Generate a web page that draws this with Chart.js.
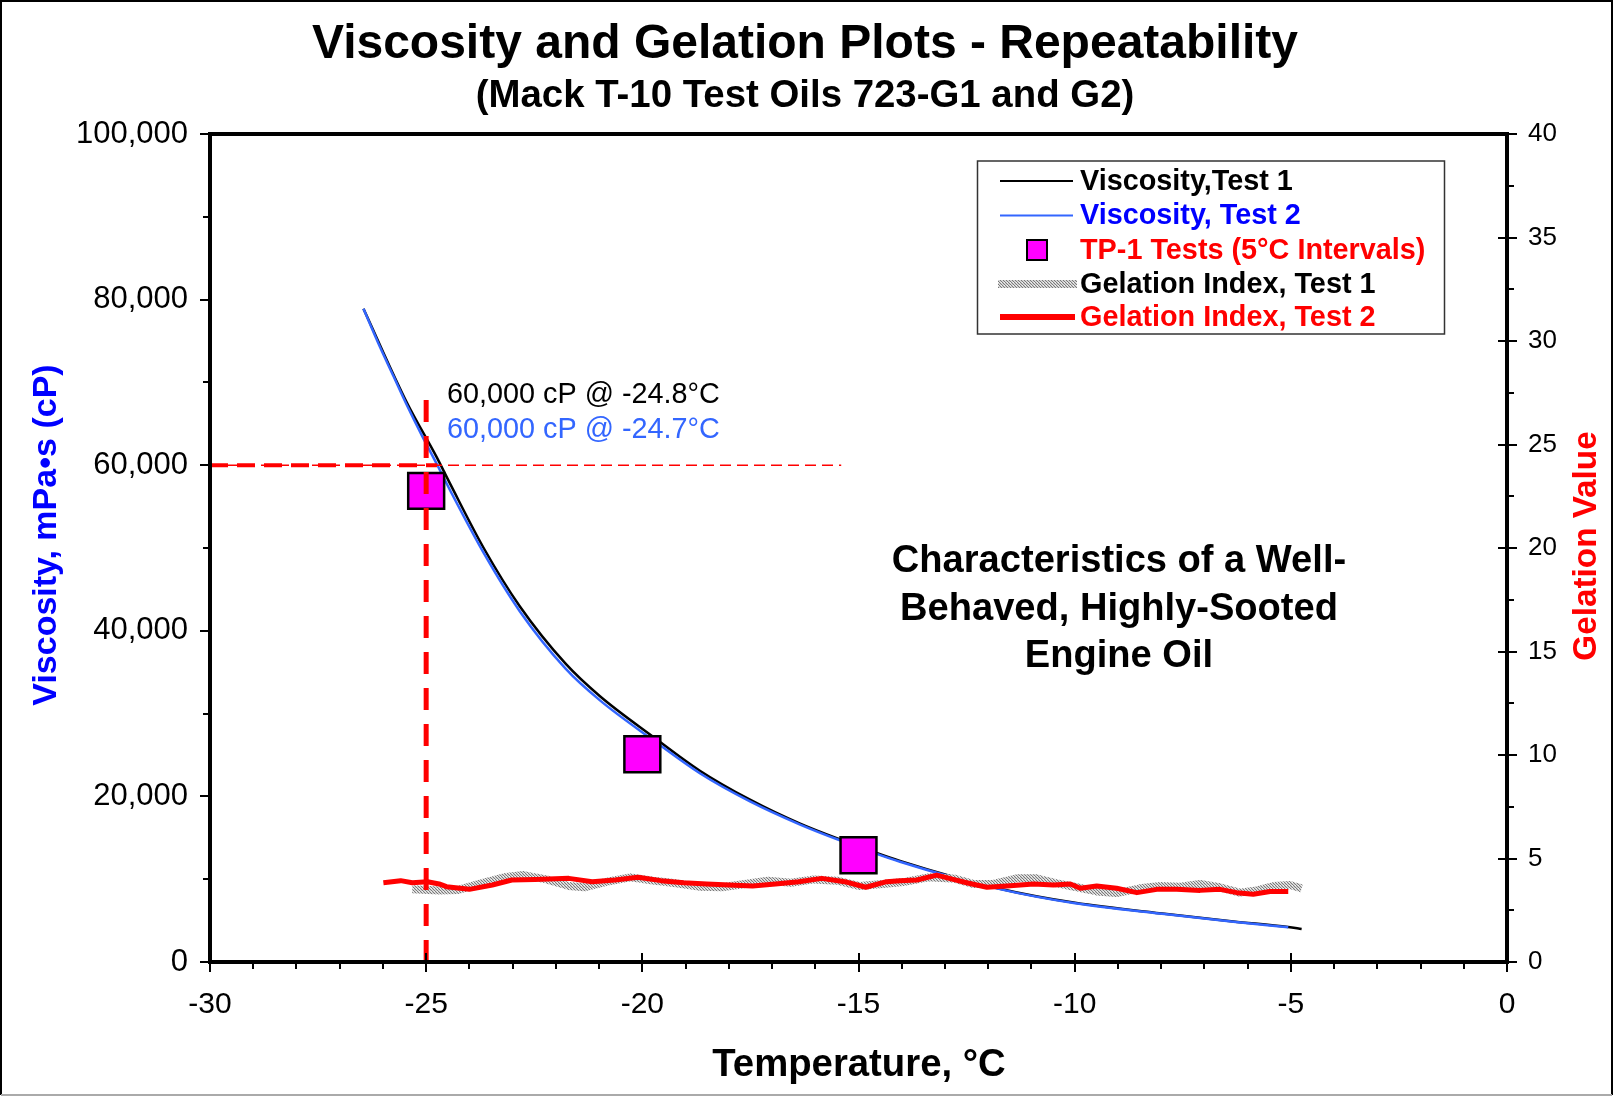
<!DOCTYPE html>
<html><head><meta charset="utf-8">
<script src="https://cdn.jsdelivr.net/npm/chart.js@4.4.1/dist/chart.umd.min.js"></script>
<style>html,body{margin:0;padding:0;background:#fff;}canvas{display:block;}</style>
</head><body>
<canvas id="c" width="1613" height="1096"></canvas>
<script>
// ---------- DATA ----------
const xTickLabels = ['-30','-25','-20','-15','-10','-5','0'];
const xTickValues = [-30,-25,-20,-15,-10,-5,0];
const yTickValues = [0,20000,40000,60000,80000,100000];
const yTickLabels = ['0','20,000','40,000','60,000','80,000','100,000'];
const y2TickValues = [0,5,10,15,20,25,30,35,40];
const y2TickLabels = ['0','5','10','15','20','25','30','35','40'];

const viscTemp1 = [-26.45,-25.45,-24.76,-24.45,-23.67,-22.84,-21.77,-20.98,-19.75,-18.67,-17.51,-16.35,-15.43,-14.04,-11.73,-9.99,-7.87,-6.33,-5.06,-4.75];
const viscTest1 = [78900,67600,61000,57800,50000,43000,36000,32100,27200,23100,19600,16700,14800,12200,8850,7150,5800,4900,4220,3990];

const viscTemp2 = [-26.45,-26.07,-25.76,-25.45,-25.1,-24.76,-24.45,-23.67,-22.84,-21.77,-20.98,-19.75,-18.67,-17.51,-16.35,-15.43,-14.04,-11.73,-9.99,-7.87,-6.33,-5.06];
const viscTest2 = [78900,74300,70800,67300,63600,60200,57000,49400,42400,35400,31600,26800,22800,19400,16600,14700,12100,8800,7090,5760,4870,4190];

const tp1Temp = [-25,-20,-15];
const tp1Visc = [56900,25100,12900];

const gel1Temp = [-25.32,-24.70,-24.26,-23.73,-23.2,-22.75,-22.22,-21.7,-21.34,-20.81,-20.28,-19.75,-19.22,-18.69,-18.16,-17.63,-17.1,-16.56,-16.03,-15.5,-14.97,-14.44,-13.91,-13.38,-12.76,-12.35,-11.88,-11.34,-10.88,-10.41,-9.95,-9.49,-9.03,-8.49,-8.02,-7.56,-7.1,-6.64,-6.18,-5.79,-5.4,-5.02,-4.75];
const gel1Val = [3.51,3.46,3.48,3.8,4.09,4.2,3.99,3.67,3.61,3.88,4.09,3.93,3.8,3.64,3.61,3.77,3.93,3.83,3.99,3.93,3.67,3.77,3.88,4.09,4.02,3.77,3.77,4.04,4.04,3.8,3.61,3.41,3.33,3.56,3.67,3.64,3.77,3.61,3.35,3.46,3.67,3.72,3.56];

const gel2Temp = [-25.99,-25.59,-25.32,-24.97,-24.70,-24.53,-24.0,-23.47,-23.02,-22.49,-21.7,-21.16,-20.63,-20.1,-19.57,-19.04,-18.51,-17.98,-17.45,-16.92,-16.38,-15.85,-15.32,-14.83,-14.35,-14.04,-13.65,-13.19,-12.81,-12.5,-12.03,-11.57,-10.95,-10.49,-10.1,-9.87,-9.49,-9.03,-8.56,-8.1,-7.64,-7.1,-6.64,-6.25,-5.87,-5.48,-5.06];
const gel2Val = [3.83,3.93,3.83,3.88,3.77,3.64,3.51,3.72,3.96,3.99,4.04,3.88,3.96,4.09,3.93,3.83,3.77,3.72,3.67,3.77,3.88,4.04,3.88,3.61,3.88,3.93,3.96,4.2,3.99,3.83,3.61,3.67,3.77,3.72,3.77,3.56,3.67,3.56,3.35,3.51,3.51,3.46,3.51,3.35,3.27,3.41,3.41];

const refVertTemp = [-25,-25];
const refVertVisc = [0,69000];
const refHorizThickTemp = [-30,-24.75];
const refHorizThinTemp = [-30,-15.4];
const refHorizVisc = [60000,60000];

const titleText = 'Viscosity and Gelation Plots - Repeatability';
const subtitleText = '(Mack T-10 Test Oils 723-G1 and G2)';
const xTitle = 'Temperature, °C';
const yTitle = 'Viscosity, mPa•s (cP)';
const y2Title = 'Gelation Value';
const noteLines = ['Characteristics of a Well-','Behaved, Highly-Sooted','Engine Oil'];
const annot1 = '60,000 cP @ -24.8°C';
const annot2 = '60,000 cP @ -24.7°C';
const legendLabels = ['Viscosity,Test 1','Viscosity, Test 2','TP-1 Tests (5°C Intervals)','Gelation Index, Test 1','Gelation Index, Test 2'];

// ---------- HELPERS ----------
const FONT = '"Liberation Sans", Arial, Helvetica, sans-serif';
const pts = (xs, ys) => xs.map((x, i) => ({x: x, y: ys[i]}));
const canvas = document.getElementById('c');
const pc = document.createElement('canvas'); pc.width = 3; pc.height = 3;
const pctx = pc.getContext('2d');
pctx.fillStyle = '#d4d4d4'; pctx.fillRect(0,0,3,3);
pctx.fillStyle = '#7a7a7a'; pctx.fillRect(0,0,1,1); pctx.fillRect(1,1,1,1); pctx.fillRect(2,2,1,1);
pctx.fillStyle = '#f2f2f2'; pctx.fillRect(2,0,1,1);
const greyPattern = canvas.getContext('2d').createPattern(pc, 'repeat');

const BLUE = '#3366FF';

const whiteBg = {
  id: 'whiteBg',
  beforeDraw(chart) {
    const ctx = chart.ctx; ctx.save(); ctx.fillStyle = '#fff';
    ctx.fillRect(0,0,chart.width,chart.height); ctx.restore();
  }
};

const framePlugin = {
  id: 'frame',
  afterDatasetsDraw(chart) {
    const {ctx, chartArea: a, scales} = chart;
    const x = scales.x, y = scales.y, y2 = scales.y2;
    ctx.save();
    ctx.strokeStyle = '#000'; ctx.lineCap = 'butt';
    ctx.lineWidth = 2;
    for (let t = -30; t <= 0; t += 1) {
      const px = Math.round(x.getPixelForValue(t));
      const major = t % 5 === 0;
      ctx.beginPath();
      ctx.moveTo(px, major ? a.bottom - 9 : a.bottom);
      ctx.lineTo(px, a.bottom + (major ? 10 : 7));
      ctx.stroke();
    }
    for (let v = 0; v <= 100000; v += 10000) {
      const py = Math.round(y.getPixelForValue(v));
      const major = v % 20000 === 0;
      ctx.beginPath();
      ctx.moveTo(a.left - (major ? 10 : 7), py);
      ctx.lineTo(a.left, py);
      ctx.stroke();
    }
    for (let v = 0; v <= 40; v += 2.5) {
      const py = Math.round(y2.getPixelForValue(v));
      const major = v % 5 === 0;
      ctx.beginPath();
      ctx.moveTo(a.right - (major ? 9 : 0), py);
      ctx.lineTo(a.right + (major ? 10 : 7), py);
      ctx.stroke();
    }
    ctx.lineWidth = 4;
    ctx.strokeRect(a.left, a.top, a.right - a.left, a.bottom - a.top);
    ctx.restore();
  }
};

const textPlugin = {
  id: 'texts',
  afterDraw(chart) {
    const ctx = chart.ctx;
    ctx.save();
    // page border
    ctx.lineWidth = 2;
    ctx.strokeStyle = '#000';
    ctx.beginPath(); ctx.moveTo(1,1095); ctx.lineTo(1,1); ctx.lineTo(1612,1); ctx.lineTo(1612,1095); ctx.stroke();
    ctx.strokeStyle = '#aaa';
    ctx.beginPath(); ctx.moveTo(1,1095); ctx.lineTo(1612,1095); ctx.stroke();

    ctx.fillStyle = '#000';
    ctx.textBaseline = 'alphabetic';
    ctx.textAlign = 'center';
    ctx.font = 'bold 48px ' + FONT;
    ctx.fillText(titleText, 805, 58);
    ctx.font = 'bold 38.4px ' + FONT;
    ctx.fillText(subtitleText, 805, 107);

    ctx.font = 'bold 38.3px ' + FONT;
    ctx.fillText(xTitle, 859, 1076);

    // left title
    ctx.save();
    ctx.translate(56, 535); ctx.rotate(-Math.PI / 2);
    ctx.fillStyle = '#0000FF';
    ctx.font = 'bold 34px ' + FONT;
    ctx.fillText(yTitle, 0, 0);
    ctx.restore();
    // right title
    ctx.save();
    ctx.translate(1596, 546); ctx.rotate(-Math.PI / 2);
    ctx.fillStyle = '#FF0000';
    ctx.font = 'bold 33.3px ' + FONT;
    ctx.fillText(y2Title, 0, 0);
    ctx.restore();

    // note
    ctx.fillStyle = '#000';
    ctx.font = 'bold 38.1px ' + FONT;
    noteLines.forEach((s, i) => ctx.fillText(s, 1119, 572 + i * 47.5));

    // annotations
    ctx.textAlign = 'left';
    ctx.font = '28.8px ' + FONT;
    ctx.fillStyle = '#000';
    ctx.fillText(annot1, 447, 403);
    ctx.fillStyle = BLUE;
    ctx.fillText(annot2, 447, 438);

    // legend
    ctx.lineWidth = 1.5; ctx.strokeStyle = '#333';
    ctx.strokeRect(977.5, 161, 467, 173);
    const rowY = [181, 215.5, 250, 284, 317];
    const txtCol = ['#000', '#0000FF', '#FF0000', '#000', '#FF0000'];
    ctx.font = 'bold 28.8px ' + FONT;
    ctx.textBaseline = 'middle';
    legendLabels.forEach((s, i) => {
      const yy = rowY[i];
      ctx.fillStyle = txtCol[i];
      ctx.fillText(s, 1080, yy + 1);
      if (i === 0 || i === 1) {
        ctx.strokeStyle = i === 0 ? '#000' : BLUE; ctx.lineWidth = 2;
        ctx.beginPath(); ctx.moveTo(1000, yy); ctx.lineTo(1073, yy); ctx.stroke();
      } else if (i === 2) {
        ctx.fillStyle = '#FF00FF'; ctx.fillRect(1027, yy - 10, 20, 20);
        ctx.strokeStyle = '#000'; ctx.lineWidth = 2; ctx.strokeRect(1027, yy - 10, 20, 20);
      } else if (i === 3) {
        ctx.fillStyle = greyPattern; ctx.fillRect(998, yy - 4, 79, 8);
      } else {
        ctx.strokeStyle = '#FF0000'; ctx.lineWidth = 6;
        ctx.beginPath(); ctx.moveTo(1000, yy); ctx.lineTo(1075, yy); ctx.stroke();
      }
    });
    ctx.restore();
  }
};

const lineBase = {pointRadius: 0, fill: false, tension: 0, borderCapStyle: 'butt'};

new Chart(canvas, {
  type: 'line',
  data: {
    datasets: [
      Object.assign({}, lineBase, {label: 'vert', data: pts(refVertTemp, refVertVisc), borderColor: '#FF0000', borderWidth: 5, borderDash: [22, 14], yAxisID: 'y', order: 0}),
      Object.assign({}, lineBase, {label: 'hthick', data: pts(refHorizThickTemp, refHorizVisc), borderColor: '#FF0000', borderWidth: 4, borderDash: [18, 9], yAxisID: 'y', order: 0}),
      Object.assign({}, lineBase, {label: 'hthin', data: pts(refHorizThinTemp, refHorizVisc), borderColor: '#FF0000', borderWidth: 1.5, borderDash: [11, 6], yAxisID: 'y', order: 0}),
      {label: legendLabels[2], data: pts(tp1Temp, tp1Visc), showLine: false, pointStyle: 'rect', pointRadius: 25.4, backgroundColor: '#FF00FF', borderColor: '#000', borderWidth: 2.5, yAxisID: 'y', order: 1},
      Object.assign({}, lineBase, {label: legendLabels[4], data: pts(gel2Temp, gel2Val), borderColor: '#FF0000', borderWidth: 5, borderJoinStyle: 'round', yAxisID: 'y2', order: 2}),
      Object.assign({}, lineBase, {label: legendLabels[3], data: pts(gel1Temp, gel1Val), borderColor: greyPattern, borderWidth: 8, borderJoinStyle: 'round', yAxisID: 'y2', order: 3}),
      Object.assign({}, lineBase, {label: legendLabels[1], data: pts(viscTemp2, viscTest2), borderColor: BLUE, borderWidth: 2.5, cubicInterpolationMode: 'monotone', yAxisID: 'y', order: 4}),
      Object.assign({}, lineBase, {label: legendLabels[0], data: pts(viscTemp1, viscTest1), borderColor: '#000', borderWidth: 2.5, cubicInterpolationMode: 'monotone', yAxisID: 'y', order: 5})
    ]
  },
  options: {
    responsive: false,
    animation: false,
    devicePixelRatio: 1,
    events: [],
    layout: {padding: {top: 134, left: 0, right: 0, bottom: 0}},
    plugins: {legend: {display: false}, tooltip: {enabled: false}, title: {display: false}},
    scales: {
      x: {
        type: 'linear', position: 'bottom', min: -30, max: 0,
        afterBuildTicks: (s) => { s.ticks = xTickValues.map(v => ({value: v})); },
        afterFit: (s) => { s.height = 134; },
        grid: {display: false, drawTicks: false}, border: {display: false},
        ticks: {autoSkip: false, maxRotation: 0, padding: 25, color: '#000', font: {family: FONT, size: 30},
          callback: (v) => xTickLabels[xTickValues.indexOf(v)]}
      },
      y: {
        type: 'linear', position: 'left', min: 0, max: 100000,
        afterBuildTicks: (s) => { s.ticks = yTickValues.map(v => ({value: v})); },
        afterFit: (s) => { s.width = 210; },
        grid: {display: false, drawTicks: false}, border: {display: false},
        ticks: {autoSkip: false, padding: 22, color: '#000', font: {family: FONT, size: 31},
          callback: (v) => yTickLabels[yTickValues.indexOf(v)]}
      },
      y2: {
        type: 'linear', position: 'right', min: 0, max: 40,
        afterBuildTicks: (s) => { s.ticks = y2TickValues.map(v => ({value: v})); },
        afterFit: (s) => { s.width = 106; },
        grid: {display: false, drawTicks: false}, border: {display: false},
        ticks: {autoSkip: false, padding: 21, color: '#000', font: {family: FONT, size: 26},
          callback: (v) => y2TickLabels[y2TickValues.indexOf(v)]}
      }
    }
  },
  plugins: [whiteBg, framePlugin, textPlugin]
});
</script>
</body></html>
